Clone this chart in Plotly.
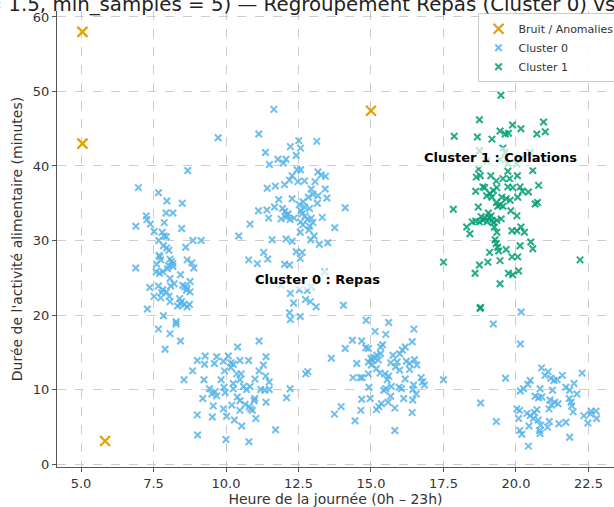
import plotly.graph_objects as go

# ---------------- data ----------------
noise_x = [5.05, 5.05, 15.0, 5.83]
noise_y = [58.0, 43.0, 47.4, 3.1]

# Cluster 0 : morning group
c0_morning = [
    (8.68, 39.4), (6.98, 37.1), (7.67, 36.4), (7.96, 35.3), (8.49, 35.0), (7.93, 33.7), (8.17, 33.7),
    (7.25, 33.3), (7.27, 32.8), (6.89, 31.9), (7.39, 32.2), (7.87, 32.4), (7.52, 31.2), (7.80, 31.1),
    (8.47, 31.6), (7.86, 30.6), (7.94, 30.5), (7.68, 30.0), (8.86, 30.0), (9.14, 30.0), (7.84, 29.3),
    (7.95, 29.0), (8.03, 28.7), (8.61, 29.1), (7.69, 28.0), (7.75, 27.4), (8.07, 27.5), (8.17, 26.9),
    (8.66, 27.4), (8.82, 27.0), (6.89, 26.3), (7.61, 26.8), (8.02, 26.6), (8.89, 26.3), (7.59, 25.8),
    (7.71, 25.6), (7.82, 25.8), (8.17, 26.5), (8.43, 25.4), (8.07, 24.9), (8.76, 24.5), (8.21, 24.2),
    (8.51, 24.0), (7.37, 23.7), (7.67, 23.9), (7.82, 23.4), (7.95, 23.1), (8.09, 23.9), (8.66, 23.6),
    (8.76, 23.1), (8.64, 23.3), (7.52, 22.5), (7.75, 22.3), (8.04, 22.5), (8.07, 21.8), (8.40, 22.2),
    (8.43, 21.5), (8.55, 21.4), (8.66, 21.1), (8.74, 21.4), (8.33, 21.2), (7.29, 20.8), (7.84, 19.9),
    (8.28, 19.1), (8.28, 18.8), (7.67, 18.1), (8.07, 17.5), (8.43, 16.5), (7.90, 15.4), (9.73, 43.8),
    (7.72, 27.8), (8.12, 27.2), (7.98, 26.2), (8.58, 23.8), (8.47, 21.8), (7.78, 23.0),
]
# Cluster 0 : lunch group
c0_lunch = [
    (11.65, 47.6), (11.13, 44.3), (12.51, 43.4), (13.13, 43.3), (12.22, 42.6), (12.57, 42.4), (11.36, 41.8),
    (12.42, 41.4), (11.79, 40.9), (12.07, 40.9), (11.50, 40.2), (11.98, 40.4), (12.45, 39.5), (12.57, 39.5),
    (13.17, 39.2), (13.28, 38.8), (13.43, 38.6), (12.28, 38.7), (12.19, 38.1), (12.48, 37.9), (12.71, 38.0),
    (13.07, 37.9), (12.02, 37.5), (11.70, 37.3), (11.42, 37.0), (12.94, 36.9), (13.42, 36.9), (13.00, 36.2),
    (13.17, 36.0), (12.84, 35.8), (13.48, 35.7), (11.82, 35.5), (12.28, 35.6), (12.66, 35.2), (13.15, 35.0),
    (11.67, 34.5), (11.95, 34.3), (12.53, 34.8), (12.71, 34.5), (12.88, 34.3), (11.12, 34.0), (11.41, 34.1),
    (12.03, 33.9), (12.14, 33.6), (12.59, 34.0), (12.73, 33.3), (14.11, 34.4), (11.47, 33.0), (11.90, 32.9),
    (12.07, 33.1), (12.21, 32.8), (12.57, 32.5), (12.94, 33.0), (13.32, 33.1), (12.65, 32.1), (12.88, 31.9),
    (13.00, 32.4), (10.83, 32.2), (13.75, 31.7), (12.86, 31.4), (12.56, 31.1), (10.44, 30.6), (13.04, 30.6),
    (12.92, 30.1), (11.59, 30.1), (12.07, 30.2), (12.28, 29.9), (13.22, 29.5), (13.51, 29.7), (12.42, 28.5),
    (12.63, 28.4), (11.30, 28.4), (12.56, 27.6), (10.78, 27.4), (11.08, 26.9), (11.44, 27.5), (12.02, 26.8),
    (12.19, 26.7), (13.40, 25.8), (11.90, 24.0), (12.53, 23.4), (12.80, 23.3), (12.94, 23.8), (12.22, 22.9),
    (12.74, 22.1), (12.91, 21.8), (12.33, 21.6), (13.11, 21.1), (14.05, 21.3), (12.19, 20.3), (12.56, 19.8),
    (12.22, 19.4), (12.10, 33.4), (12.35, 33.0), (12.62, 33.6), (12.80, 32.8),
]
# Cluster 0 : late-morning low group
c0_low_left = [
    (11.14, 16.5), (10.40, 15.7), (9.28, 14.5), (9.01, 13.9), (9.26, 13.4), (9.68, 14.4), (9.60, 13.5),
    (9.91, 13.8), (10.08, 14.5), (10.17, 13.6), (10.25, 13.4), (10.48, 13.9), (10.78, 13.9), (11.38, 14.4),
    (11.29, 13.3), (8.85, 12.5), (9.95, 12.5), (10.17, 12.95), (10.37, 12.1), (10.52, 12.1), (11.14, 12.5),
    (11.37, 11.8), (8.55, 11.3), (9.24, 11.3), (9.83, 11.3), (10.48, 11.3), (11.00, 11.4), (11.49, 11.0),
    (10.25, 10.8), (9.43, 10.1), (9.62, 9.7), (9.93, 10.3), (9.97, 9.6), (10.25, 10.1), (10.60, 10.4),
    (10.71, 10.0), (10.83, 10.4), (11.20, 10.0), (11.34, 9.9), (11.49, 10.0), (12.21, 10.1), (9.51, 9.4),
    (9.20, 8.8), (9.68, 9.15), (10.39, 9.0), (10.48, 8.5), (12.09, 8.9), (11.38, 8.3), (10.99, 8.8),
    (10.97, 8.5), (10.20, 7.9), (9.56, 7.8), (9.91, 7.4), (10.48, 7.2), (10.85, 7.4), (10.80, 7.7),
    (10.91, 7.2), (10.66, 8.0), (9.01, 6.6), (9.53, 6.3), (10.02, 6.4), (10.29, 5.9), (11.03, 6.1),
    (10.54, 5.1), (11.71, 4.6), (9.02, 3.9), (10.00, 3.3), (10.79, 3.0), (12.75, 12.1), (12.82, 12.4),
]
# Cluster 0 : afternoon low group
c0_low_mid = [
    (14.83, 19.3), (15.61, 19.0), (15.14, 17.8), (16.48, 18.1), (15.51, 17.4), (14.36, 16.6), (14.68, 16.5),
    (16.42, 16.4), (14.11, 15.5), (14.82, 15.6), (14.91, 15.5), (15.33, 15.7), (15.40, 16.0), (16.18, 15.7),
    (16.08, 15.3), (15.99, 14.8), (15.33, 14.8), (15.76, 14.6), (13.63, 14.2), (15.00, 14.2), (15.11, 14.3),
    (15.25, 13.95), (14.91, 13.7), (14.51, 13.5), (15.02, 13.3), (15.68, 13.6), (15.90, 13.7), (16.22, 13.8),
    (16.50, 14.0), (16.58, 13.3), (16.33, 13.5), (15.85, 13.05), (15.99, 12.6), (16.33, 12.7), (15.19, 12.8),
    (15.31, 12.2), (15.48, 12.1), (15.61, 11.8), (15.56, 11.3), (14.91, 12.1), (14.38, 11.6), (14.63, 11.6),
    (14.70, 11.6), (16.18, 11.4), (16.73, 11.6), (16.78, 11.0), (16.84, 10.6), (16.47, 10.6), (15.70, 10.4),
    (15.51, 10.1), (15.97, 10.3), (16.05, 10.1), (14.93, 10.3), (15.44, 9.9), (16.44, 10.0), (17.50, 11.3),
    (16.56, 9.4), (15.68, 9.1), (14.68, 8.7), (14.97, 8.8), (16.13, 8.8), (16.44, 8.6), (15.59, 8.3),
    (15.36, 8.1), (15.27, 7.7), (13.97, 7.7), (14.65, 7.2), (15.19, 7.3), (15.82, 7.5), (13.74, 6.7),
    (16.42, 6.9), (14.45, 5.8), (15.82, 4.5), (15.05, 13.9), (15.20, 14.6),
]
# Cluster 0 : evening low group
c0_low_right = [
    (20.18, 20.4), (19.22, 18.8), (20.15, 16.1), (20.88, 12.9), (21.11, 12.4), (19.64, 11.5), (22.28, 12.2),
    (21.00, 11.9), (21.20, 11.5), (21.31, 11.2), (21.42, 11.3), (21.60, 11.9), (20.49, 11.2), (20.41, 10.7),
    (22.00, 10.8), (20.26, 10.1), (20.15, 9.8), (20.83, 10.1), (21.26, 9.9), (21.72, 10.3), (21.85, 9.9),
    (22.10, 9.4), (20.66, 9.1), (20.78, 8.9), (20.89, 9.0), (21.84, 8.8), (21.90, 8.3), (21.17, 8.6),
    (21.34, 8.3), (21.45, 8.1), (21.22, 7.9), (21.92, 7.8), (21.14, 7.4), (20.03, 7.4), (20.13, 7.2),
    (20.72, 7.3), (20.64, 6.9), (20.49, 6.5), (20.38, 6.8), (21.97, 7.0), (22.34, 6.5), (22.59, 7.1),
    (22.76, 7.1), (22.57, 6.7), (22.78, 6.1), (22.48, 5.5), (20.09, 6.1), (20.60, 6.1), (20.77, 5.9),
    (20.85, 5.2), (21.15, 5.7), (21.48, 5.4), (21.72, 5.6), (21.09, 4.95), (20.45, 5.1), (20.81, 4.5),
    (20.13, 4.5), (20.20, 4.0), (20.83, 4.1), (19.32, 5.7), (21.85, 3.6), (20.43, 2.4), (18.78, 8.2),
]
# Cluster 1 : snacks
c1_snacks = [
    (19.48, 49.5), (18.74, 46.2), (20.95, 45.9), (19.88, 45.5), (17.87, 44.0), (18.67, 43.9), (19.45, 44.7),
    (19.74, 44.4), (19.63, 44.3), (20.17, 45.0), (20.72, 44.3), (21.01, 44.6), (19.17, 43.6), (18.74, 42.0),
    (19.55, 42.4), (19.63, 41.8), (19.00, 40.7), (20.14, 40.9), (19.45, 40.9), (20.49, 41.8), (18.71, 39.6),
    (19.72, 40.3), (20.03, 40.3), (20.58, 39.4), (18.77, 38.7), (18.63, 38.5), (19.72, 39.3), (19.13, 38.7),
    (19.55, 38.3), (19.78, 38.3), (20.05, 38.7), (19.32, 38.0), (18.86, 37.2), (18.92, 37.1), (19.22, 36.7),
    (19.72, 37.2), (19.89, 37.1), (20.14, 37.2), (20.78, 37.4), (18.61, 36.6), (19.10, 36.3), (19.34, 37.1),
    (20.22, 36.6), (20.43, 36.5), (18.99, 36.0), (19.17, 35.8), (19.51, 35.8), (19.66, 35.6), (20.06, 35.8),
    (19.32, 35.1), (19.45, 34.8), (19.37, 34.6), (19.55, 34.6), (19.80, 35.4), (20.66, 34.9), (20.74, 35.1),
    (17.84, 34.2), (18.70, 34.5), (19.82, 34.0), (19.05, 33.7), (19.14, 33.3), (18.94, 33.0), (18.86, 32.7),
    (18.74, 32.5), (18.61, 32.6), (18.49, 32.5), (18.30, 31.8), (18.41, 30.9), (19.34, 32.7), (19.49, 32.9),
    (20.03, 33.3), (19.17, 32.7), (19.00, 32.5), (19.25, 31.8), (19.34, 31.1), (19.86, 31.3), (20.03, 31.3),
    (20.17, 31.8), (20.29, 31.1), (19.28, 30.1), (19.32, 29.6), (19.37, 29.1), (20.51, 29.8), (20.14, 29.3),
    (20.58, 28.9), (19.40, 28.6), (19.66, 28.8), (19.09, 28.4), (19.86, 27.8), (20.06, 27.8), (19.03, 27.1),
    (19.45, 27.3), (17.50, 27.1), (22.21, 27.4), (18.74, 26.7), (18.59, 25.6), (19.74, 25.6), (19.89, 25.4),
    (20.09, 25.9), (19.45, 24.2), (18.76, 20.9), (18.78, 21.0), (19.08, 33.1), (18.80, 33.2), (19.22, 32.4),
]

cluster0 = c0_morning + c0_lunch + c0_low_left + c0_low_mid + c0_low_right
cluster0_x = [p[0] for p in cluster0]
cluster0_y = [p[1] for p in cluster0]
cluster1_x = [p[0] for p in c1_snacks]
cluster1_y = [p[1] for p in c1_snacks]

x_ticks = [5.0, 7.5, 10.0, 12.5, 15.0, 17.5, 20.0, 22.5]
y_ticks = [0, 10, 20, 30, 40, 50, 60]

labels = [("Cluster 0 : Repas", 13.17, 24.7), ("Cluster 1 : Collations", 19.45, 41.2)]

title_text = "DBSCAN (eps = 1.5, min_samples = 5) — Regroupement Repas (Cluster 0) vs Collations (Cluster 1)"

ORANGE = "#E69F00"
BLUE = "#56B4E9"
GREEN = "#009E73"
FONT = "DejaVu Sans"

fig = go.Figure()
fig.add_trace(go.Scatter(
    x=noise_x, y=noise_y, mode="markers", name="Bruit / Anomalies",
    marker=dict(symbol="x-thin", size=10, color=ORANGE, line=dict(width=2.2, color=ORANGE)),
))
fig.add_trace(go.Scatter(
    x=cluster0_x, y=cluster0_y, mode="markers", name="Cluster 0",
    marker=dict(symbol="x-thin", size=6.5, color=BLUE, opacity=0.85, line=dict(width=2, color=BLUE)),
))
fig.add_trace(go.Scatter(
    x=cluster1_x, y=cluster1_y, mode="markers", name="Cluster 1",
    marker=dict(symbol="x-thin", size=6.5, color=GREEN, opacity=0.85, line=dict(width=2, color=GREEN)),
))

for txt, lx, ly in labels:
    fig.add_annotation(
        x=lx, y=ly, xref="x", yref="y", text="<b>" + txt + "</b>", showarrow=False,
        font=dict(family=FONT, size=13, color="black"),
        bgcolor="rgba(255,255,255,0.7)", borderpad=2,
    )

fig.add_annotation(
    x=0.5, y=1.0, xref="paper", yref="paper", xshift=3, yshift=-7,
    text=title_text, showarrow=False, xanchor="center", yanchor="bottom",
    font=dict(family=FONT, size=19.8, color="#222"),
)

axis_common = dict(
    showgrid=True, gridcolor="#cccccc", griddash="dash", gridwidth=0.8,
    zeroline=False, showline=True, linecolor="#555555", linewidth=1.2,
    ticks="outside", ticklen=4, tickcolor="#555555", tickwidth=1,
    tickfont=dict(family=FONT, size=13, color="#333333"),
)

fig.update_layout(
    width=614, height=507,
    margin=dict(l=57, r=0, t=11, b=40, autoexpand=False),
    paper_bgcolor="white", plot_bgcolor="white",
    font=dict(family=FONT, color="#333333"),
    xaxis=dict(
        range=[4.172, 23.38], tickvals=x_ticks, ticktext=[f"{v:.1f}" for v in x_ticks],
        title=dict(text="Heure de la journée (0h – 23h)", font=dict(family=FONT, size=14, color="#333333"), standoff=4),
        **axis_common,
    ),
    yaxis=dict(
        range=[-0.4, 60.8], tickvals=y_ticks,
        title=dict(text="Durée de l'activité alimentaire (minutes)", font=dict(family=FONT, size=14, color="#333333"), standoff=6),
        **axis_common,
    ),
    legend=dict(
        x=0.755, y=0.995, xanchor="left", yanchor="top",
        bgcolor="rgba(255,255,255,0.9)", bordercolor="#cccccc", borderwidth=1,
        font=dict(family=FONT, size=11, color="#333333"), tracegroupgap=0,
    ),
    showlegend=True,
)

fig.write_html(
    "out.html",
    config={"displayModeBar": False},
    post_script="document.body.style.margin='0';document.body.style.overflow='hidden';",
)
